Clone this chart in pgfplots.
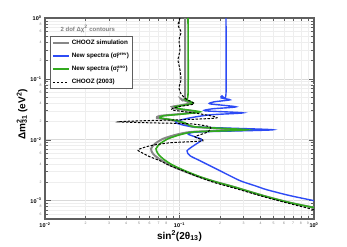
\documentclass[border=0pt]{standalone}
\usepackage{fontspec}
\setmainfont{Liberation Sans}
\usepackage{pgfplots}
\pgfplotsset{compat=1.18}
\definecolor{cblue}{RGB}{45,75,245}
\definecolor{cgreen}{RGB}{50,170,30}
\definecolor{cgray}{RGB}{135,135,135}
\definecolor{cframe}{RGB}{95,95,95}
\newcommand{\tp}[1]{10\textsuperscript{#1}}
\begin{document}
\begin{tikzpicture}
\begin{axis}[
  scale only axis, width=269pt, height=201pt,
  xmode=log, ymode=log,
  xmin=0.01, xmax=1, ymin=5e-4, ymax=1,
  axis line style={cframe, line width=1.1pt},
  tick align=inside,
  major tick length=6pt, minor tick length=3pt,
  every tick/.style={cframe, line width=0.5pt},
  xtick={0.01,0.1,1}, xticklabels={\tp{−2},\tp{−1},\tp{0}},
  ytick={0.001,0.01,0.1,1}, yticklabels={\tp{−3},\tp{−2},\tp{−1},\tp{0}},
  minor xtick={0.02,0.03,0.04,0.05,0.06,0.07,0.08,0.09,0.2,0.3,0.4,0.5,0.6,0.7,0.8,0.9},
  minor ytick={0.0006,0.0007,0.0008,0.0009,0.002,0.003,0.004,0.005,0.006,0.007,0.008,0.009,0.02,0.03,0.04,0.05,0.06,0.07,0.08,0.09,0.2,0.3,0.4,0.5,0.6,0.7,0.8,0.9},
  extra x ticks={0.02,0.03,0.04,0.05,0.06,0.07,0.08,0.2,0.3,0.4,0.5,0.6,0.7,0.8,0.9},
  extra x tick labels={2,3,4,5,6,7,8,2,3,4,5,6,7,8,9},
  extra y ticks={0.0006,0.0008,0.002,0.004,0.006,0.008,0.02,0.04,0.06,0.08,0.2,0.4,0.6,0.8},
  extra y tick labels={6,8,2,4,6,8,2,4,6,8,2,4,6,8},
  extra tick style={major tick length=3pt, major grid style={gray!13}, tick label style={font=\fontsize{3.5}{4}\selectfont, text=gray}},
  grid=both, major grid style={gray!30, line width=0.6pt}, minor grid style={gray!13},
  tick label style={font=\fontsize{5.5}{6}\selectfont\bfseries},
  xlabel={\bfseries sin\textsuperscript{2}(2θ\textsubscript{13})},
  xlabel style={font=\fontsize{10}{12}\selectfont, at={(axis description cs:0.5,-0.085)}, anchor=center},
  ylabel={\bfseries Δm\rlap{\textsuperscript{2}}\textsubscript{31} (eV\textsuperscript{2})},
  ylabel style={font=\fontsize{10}{12}\selectfont, at={(axis description cs:-0.085,0.52)}, anchor=center},
  legend style={at={(axis description cs:0.0186,0.9104)}, anchor=north west, draw=cframe, line width=0.8pt, font=\fontsize{6.3}{7}\selectfont\bfseries, inner sep=1.5pt, row sep=2.8pt, fill=white},
  legend cell align=left,
  legend image code/.code={\draw[#1] (0pt,0pt) -- (16pt,0pt);},
]
\addplot[cgray, line width=2pt, smooth, tension=0.4] coordinates {
(0.1099,1) (0.1099,0.0526) (0.1026,0.0470) (0.1197,0.0404) (0.1062,0.0375) (0.0880,0.0348) (0.0958,0.0322) (0.1327,0.0288) (0.1044,0.0267) (0.0716,0.0247) (0.0680,0.0229) (0.0850,0.0213) (0.1062,0.0190) (0.1260,0.0163) (0.2818,0.0146) (0.1239,0.0135) (0.0942,0.0121) (0.0754,0.01038) (0.0657,0.00860) (0.0614,0.00712) (0.0635,0.00589) (0.0704,0.00488) (0.0836,0.00389) (0.1062,0.00310) (0.1396,0.00247) (0.1836,0.00205) (0.2499,0.00170) (0.3344,0.00140) (0.4473,0.00116) (0.6632,0.000927) (1.0,0.000768)
};
\addlegendentry{CHOOZ simulation}
\addplot[cblue, line width=1.4pt, smooth, tension=0.4] coordinates {
(0.2217,1) (0.2217,0.0568) (0.2070,0.0526) (0.2035,0.0488) (0.2374,0.0453) (0.1805,0.0420) (0.1686,0.0389) (0.2631,0.0348) (0.1744,0.0322) (0.1547,0.0299) (0.2966,0.0277) (0.1686,0.0257) (0.1197,0.0229) (0.0975,0.0205) (0.0942,0.0190) (0.1304,0.0163) (0.4956,0.0146) (0.1421,0.0135) (0.1157,0.0125) (0.1304,0.0112) (0.1470,0.0100) (0.1304,0.00828) (0.1137,0.00660) (0.1197,0.00547) (0.1421,0.00453) (0.2000,0.00310) (0.2818,0.00213) (0.3641,0.00176) (0.4473,0.00151) (0.6632,0.00121) (1.0,0.00100)
};
\addlegendentry{New spectra (σ\rlap{\textsubscript{f}}\textsuperscript{prev})}
\addplot[cgreen, line width=1.6pt, smooth, tension=0.4] coordinates {
(0.1157,1) (0.1157,0.0547) (0.1080,0.0470) (0.1260,0.0404) (0.1118,0.0375) (0.0926,0.0348) (0.1009,0.0322) (0.1421,0.0288) (0.1099,0.0267) (0.0754,0.0247) (0.0716,0.0229) (0.0880,0.0213) (0.1099,0.0190) (0.1304,0.0163) (0.3176,0.0146) (0.1304,0.0135) (0.1009,0.0121) (0.0821,0.01038) (0.0716,0.00860) (0.0669,0.00712) (0.0692,0.00589) (0.0754,0.00488) (0.0880,0.00389) (0.1099,0.00310) (0.1421,0.00247) (0.1836,0.00205) (0.2499,0.00170) (0.3344,0.00140) (0.4473,0.00116) (0.6632,0.000927) (1.0,0.000768)
};
\addlegendentry{New spectra (σ\rlap{\textsubscript{f}}\textsuperscript{ano})}
\addplot[black, line width=1pt, dash pattern=on 2.5pt off 1.5pt, smooth, tension=0.4] coordinates {
(0.1009,1) (0.0975,0.768) (0.1026,0.589) (0.0991,0.436) (0.1009,0.299) (0.0975,0.205) (0.1009,0.1404) (0.1026,0.0963) (0.0991,0.0712) (0.1026,0.0568) (0.1118,0.0470) (0.1282,0.0389) (0.0975,0.0348) (0.0880,0.0310) (0.1421,0.0267) (0.1900,0.0229) (0.1009,0.0213) (0.0509,0.0205) (0.0349,0.0197) (0.0603,0.0190) (0.1197,0.0183) (0.1686,0.0163) (0.1629,0.0135) (0.1304,0.0112) (0.1495,0.00963) (0.0850,0.00893) (0.0603,0.00797) (0.0491,0.00686) (0.0526,0.00612) (0.0603,0.00526) (0.0716,0.00453) (0.0850,0.00375) (0.1062,0.00310) (0.1373,0.00247) (0.1836,0.00197) (0.2499,0.00163) (0.3344,0.00135) (0.4473,0.00112) (0.6632,0.000893) (1.0,0.000712)
};
\addlegendentry{CHOOZ (2003)}
\node[anchor=west, text=gray, font=\fontsize{6}{7}\selectfont\bfseries] at (axis description cs:0.045,0.945) {2 dof Δχ\textsuperscript{2} contours};
\end{axis}
\pgfresetboundingbox
\path[use as bounding box] (-45pt,-27pt) rectangle (302pt,219pt);
\end{tikzpicture}
\end{document}
